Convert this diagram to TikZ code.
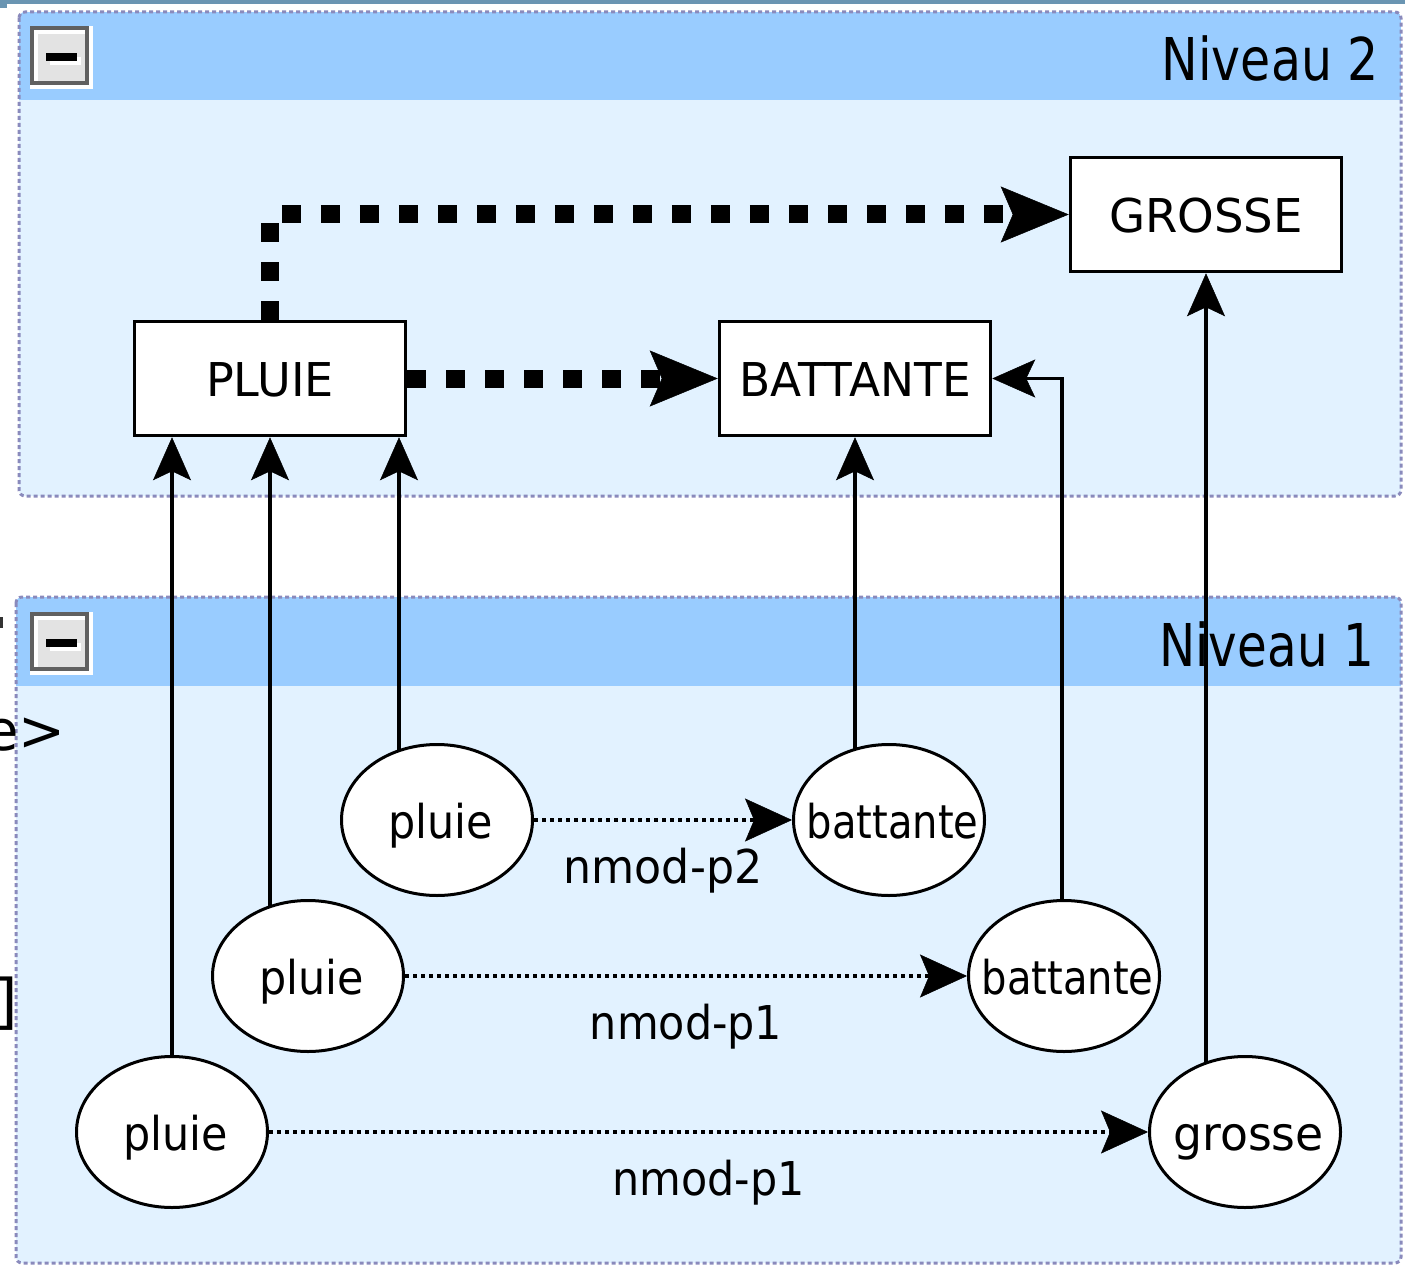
\documentclass[tikz,border=0pt]{standalone}
\usepackage{fontspec}
\setmainfont{DejaVu Sans}
\usetikzlibrary{arrows.meta,shapes.geometric,calc}

\definecolor{headerblue}{HTML}{99CCFF}
\definecolor{bodyblue}{HTML}{E2F2FF}
\definecolor{paneledge}{HTML}{8A8ABC}
\definecolor{topstrip}{HTML}{6A95B2}
\definecolor{btnedge}{HTML}{606060}
\definecolor{btnface}{HTML}{E3E3E3}

\newcommand{\nodefont}{\fontsize{46.6pt}{50pt}\selectfont}
\newcommand{\titlefont}{\fontsize{59pt}{62pt}\selectfont}
\newcommand{\sx}[2]{\scalebox{#1}[1]{#2}}
% token text: zero width so the ellipse keeps its own size
\newcommand{\tokentext}[2]{\makebox[0pt]{\hspace*{7pt}\scalebox{#1}[1]{#2}}}

% collapse button of a panel, top-left corner at (#1,#2)
\newcommand{\collapsebtn}[2]{%
  \fill[white]   (#1,#2) rectangle ++(63,63);
  \fill[btnedge] (#1,#2) rectangle ++(59,59);
  \fill[white]   ($(#1,#2)+(4,4)$) rectangle ($(#1,#2)+(55,55)$);
  \fill[btnface] ($(#1,#2)+(8,8)$) rectangle ($(#1,#2)+(55,55)$);
  \fill[white]   ($(#1,#2)+(20,31)$) rectangle ($(#1,#2)+(51,39)$);
  \fill[black]   ($(#1,#2)+(16,27)$) rectangle ($(#1,#2)+(47,35)$);
}

\pgfdeclarelayer{panels}
\pgfdeclarelayer{edges}
\pgfsetlayers{panels,edges,main}

\begin{document}
\begin{tikzpicture}[x=1pt,y=-1pt,
  box/.style={draw, line width=3.5pt, fill=white, minimum width=271pt,
    minimum height=114pt, inner sep=0pt, font=\nodefont,
    text height=39.6pt, text depth=2.8pt},
  tok/.style={ellipse, draw, line width=3pt, fill=white, minimum width=191pt,
    minimum height=151pt, inner sep=0pt, font=\nodefont,
    text height=39.6pt, text depth=2.8pt},
  title/.style={font=\titlefont, inner sep=0pt, anchor=base east},
  lbl/.style={font=\nodefont, inner sep=0pt, anchor=base},
  link/.style={line width=3.3pt,
    -{Stealth[length=43pt, width=38pt, inset=9pt, line width=0.5pt]}},
  rel/.style={line width=4.5pt, dash pattern=on 4pt off 4pt,
    -{Stealth[length=47pt, width=43pt, inset=9pt, line width=0.5pt]}},
  deprel/.style={line width=18pt, dash pattern=on 19pt off 20pt,
    -{Stealth[length=68pt, width=56pt, inset=12pt, line width=0.5pt]}},
  panelborder/.style={draw=paneledge, line width=3pt, dash pattern=on 4pt off 3pt,
    rounded corners=6pt}
]
\useasboundingbox (0,0) rectangle (1405,1265);

% ---------- panels ----------
\begin{pgfonlayer}{panels}
  \fill[topstrip] (0,0) rectangle (1405,4);
  \fill[topstrip] (0,0) rectangle (7,8);

  % Niveau 2
  \fill[bodyblue, rounded corners=6pt] (19,12) rectangle (1401,496);
  \begin{scope}
    \clip[rounded corners=6pt] (19,12) rectangle (1401,496);
    \fill[headerblue] (19,12) rectangle (1401,100);
  \end{scope}
  \draw[panelborder] (19,12) rectangle (1401,496);
  \collapsebtn{30}{26}

  % Niveau 1
  \fill[bodyblue, rounded corners=6pt] (16,597) rectangle (1401,1263);
  \begin{scope}
    \clip[rounded corners=6pt] (16,597) rectangle (1401,1263);
    \fill[headerblue] (16,597) rectangle (1401,686);
  \end{scope}
  \draw[panelborder] (16,597) rectangle (1401,1263);
  \collapsebtn{30}{612}

  % text fragments at the left border
  \node[font=\fontsize{56pt}{58pt}\selectfont, inner sep=0pt, anchor=base west]
    (fragA) at (-16,750) {e>};
  \node[font=\fontsize{60pt}{62pt}\selectfont, inner sep=0pt, anchor=base west]
    (fragB) at (-6,1022) {]};
  \fill[black!80] (0,617) rectangle (3,628);
\end{pgfonlayer}

\node[title] (t2) at (1379,81) {\sx{0.83}{Niveau 2}};
\node[title] (t1) at (1374,666) {\sx{0.82}{Niveau 1}};

% ---------- level 2 boxes ----------
\node[box] (PLUIE)    at (270,378.5)  {\sx{0.99}{PLUIE}};
\node[box] (BATTANTE) at (855,378.5)  {\sx{0.975}{BATTANTE}};
\node[box] (GROSSE)   at (1206,214.5) {\sx{1.0}{GROSSE}};

% ---------- level 1 tokens ----------
\node[tok] (p3) at (437,820)  {\tokentext{0.92}{pluie}};
\node[tok] (b1) at (889,820)  {\tokentext{0.86}{battante}};
\node[tok] (p2) at (308,976)  {\tokentext{0.92}{pluie}};
\node[tok] (b2) at (1064,976) {\tokentext{0.86}{battante}};
\node[tok] (p1) at (172,1132) {\tokentext{0.92}{pluie}};
\node[tok] (g)  at (1245,1132) {\tokentext{0.98}{grosse}};

\coordinate (a3) at ([xshift=129pt]PLUIE.south);

% ---------- connectors ----------
\begin{pgfonlayer}{edges}
  % token relations
  \draw[rel] (p3.east) -- (b1.west)
    node[lbl, midway, yshift=-63pt] (l1) {\sx{0.95}{nmod-p2}};
  \draw[rel] (p2.east) -- (b2.west)
    node[lbl, midway, yshift=-63pt] (l2) {\sx{0.92}{nmod-p1}};
  \draw[rel] (p1.east) -- (g.west)
    node[lbl, midway, yshift=-63pt] (l3) {\sx{0.92}{nmod-p1}};

  % token to lemma links
  \draw[link] (p1.center) -- (p1.center |- PLUIE.south);
  \draw[link] (p2.center -| PLUIE.south) -- (PLUIE.south);
  \draw[link] (p3.center -| a3) -- (a3);
  \draw[link] (b1.center -| BATTANTE.south) -- (BATTANTE.south);
  \draw[link] ([xshift=-2pt]b2.center) |- (BATTANTE.east);
  \draw[link] (g.center -| GROSSE.south) -- (GROSSE.south);

  % lemma relations
  \draw[deprel] (PLUIE.east) -- (BATTANTE.west);
  \draw[deprel] (PLUIE.north) |- (GROSSE.west);
\end{pgfonlayer}
\end{tikzpicture}
\end{document}
